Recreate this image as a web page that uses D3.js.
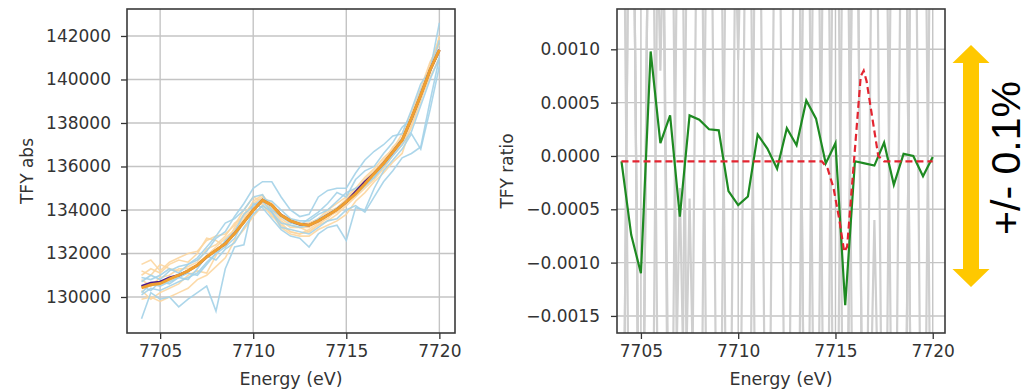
<!DOCTYPE html>
<html><head><meta charset="utf-8">
<script src="https://cdn.jsdelivr.net/npm/d3@7"></script>
<style>
html,body{margin:0;padding:0;background:#fff;}
svg{display:block;}
text{font-family:"DejaVu Sans",sans-serif;fill:#333;}
</style></head>
<body>
<svg id="chart" width="1028" height="390"></svg>
<script>
// ---------- DATA ----------
const energy = [7704,7704.5,7705,7705.5,7706,7706.5,7707,7707.5,7708,7708.5,7709,7709.5,7710,7710.5,7711,7711.5,7712,7712.5,7713,7713.5,7714,7714.5,7715,7715.5,7716,7716.5,7717,7717.5,7718,7718.5,7719,7719.5,7720];
const xTicks = [7705,7710,7715,7720];
const absTicks = [130000,132000,134000,136000,138000,140000,142000];
const ratioTicks = [-0.0015,-0.0010,-0.0005,0.0000,0.0005,0.0010];

const meanTFY = [130490,130640,130690,130890,131000,131200,131460,131840,132150,132450,132920,133450,133990,134450,134220,133760,133500,133350,133300,133500,133760,134020,134370,134830,135290,135680,136140,136670,137210,138210,139280,140430,141360];
const smoothTFY = [130420,130560,130620,130820,131000,131200,131460,131840,132150,132450,132920,133450,133990,134450,134220,133760,133500,133350,133300,133500,133760,134020,134370,134740,135190,135680,136140,136670,137210,138210,139280,140430,141360];

const blueScans = [
 [129000,130200,129900,130000,129550,129900,130200,130500,129350,131300,132300,132400,134300,134100,133600,133100,132800,132700,132300,132900,133200,133300,132600,134100,134000,135000,135800,136300,136800,137500,136800,138600,140600],
 [130900,130800,131000,131300,131100,131500,131700,132100,132700,133000,133700,134300,135000,135300,135300,134600,134000,133700,133800,134600,134900,135000,135000,135700,136300,136700,137000,137400,137500,138600,139800,140400,142600],
 [130500,130300,130700,130600,130900,131100,131000,131500,132000,132600,133000,133800,134200,134500,134400,134000,133600,133500,133500,133800,134000,134400,134800,135000,135200,135500,136000,136500,137000,137600,138800,140000,141000],
 [130200,130600,130500,130700,130900,130800,131300,131900,131700,132200,132500,133200,133800,134200,133900,133200,133100,133000,132900,133200,133500,133600,134000,134200,133900,134600,135300,135800,136400,136600,136900,139000,141000],
 [130700,131000,130800,131200,131400,131500,131800,132300,132800,133400,133600,134000,134600,134700,134000,133700,133400,133300,133600,133900,134300,134800,134600,135400,135800,136000,136600,137100,137800,138200,139500,140300,141800],
 [130100,130400,130300,130500,130700,130900,131100,131600,132000,132300,132700,133500,134000,134400,133900,133400,133300,133200,133300,133600,133800,134100,134400,134700,135100,135500,136100,136700,137300,138100,139200,140500,141200]
];
const peachScans = [
 [131500,131700,131200,131600,131800,132000,132100,132600,132800,132900,133300,134000,134600,134400,134000,133500,133200,133200,133000,133300,133700,133900,134300,134700,135200,135500,136000,136600,137000,137800,139000,140500,141800],
 [129900,130000,129800,130000,130200,130400,130800,131000,131400,131800,132600,133100,133700,134200,133800,133200,132900,132800,132800,133100,133300,133500,133800,134400,134800,135300,135700,136200,136600,137900,139100,140100,141000],
 [131000,131300,131100,131500,131700,131600,132000,132700,132600,132300,133200,133800,134300,134600,134300,133800,133600,133400,133400,133600,134000,134300,134600,135000,135500,135900,136400,136800,137500,138500,139600,140800,141600],
 [130300,129900,130200,130400,130600,131000,131200,131100,131900,132600,133000,133400,134100,134300,133700,133400,133000,132900,133000,133300,133500,133800,134200,134600,135000,135400,135900,136500,137000,138000,139300,140600,141300],
 [131200,131000,131500,131300,131200,131400,131600,132200,132400,132800,133400,133700,134400,134700,134100,133600,133300,133200,133200,133500,133900,134100,134500,134900,135400,135800,136200,136900,137300,138300,139400,140700,141900],
 [130800,130500,130900,131000,131300,131300,131500,131900,132300,132700,133100,133600,134200,134500,133900,133300,133000,132900,133100,133400,133600,134000,134400,134800,135300,135700,136300,136800,137200,138000,139100,140300,142000]
];

const ratioGreen = [-0.00005,-0.00074,-0.0011,0.00098,0.00012,0.00038,-0.00057,0.00038,0.00034,0.00025,0.00024,-0.00033,-0.00046,-0.00038,0.0002,0.00007,-0.00012,0.00026,0.0001,0.00052,0.00035,-0.00007,0.00012,-0.0014,-0.00005,-0.00007,-0.00009,0.000125,-0.00027,0.00002,0.0,-0.00019,-0.00001];

const fitEnergy = [7704,7714.3,7714.6,7714.9,7715.2,7715.45,7715.6,7716.3,7716.45,7716.6,7717.2,7717.5,7720];
const fitRatio = [-0.00005,-0.00005,-0.00012,-0.0003,-0.0006,-0.0009,-0.00085,0.00075,0.0008,0.0007,0.0,-0.00005,-0.00005];

const grayScans = [
 [0.005,-0.005,-0.005,0.005,0.005,-0.004,-0.005,0.005,0.005,0.005,-0.005,-0.005,0.005,0.005,0.005,0.005,0.005,-0.005,-0.005,0.005,0.005,-0.005,-0.005,0.005,0.005,-0.005,-0.005,-0.005,0.005,0.005,-0.005,-0.005,0.005],
 [-0.005,0.005,-0.005,-0.005,0.005,-0.005,-0.0003,-0.005,-0.005,0.005,0.005,-0.005,-0.005,-0.005,0.005,-0.005,-0.005,-0.005,0.005,-0.005,0.005,0.005,0.005,-0.005,0.005,0.005,0.005,-0.005,-0.005,-0.005,0.005,-0.005,-0.005],
 [0.005,0.005,-0.005,0.005,0.0008,0.005,-0.005,-0.0004,-0.005,-0.005,-0.005,0.005,0.0009,0.005,-0.005,-0.005,0.005,0.005,0.005,-0.005,-0.005,0.005,-0.005,-0.005,0.005,-0.005,0.005,0.005,-0.005,-0.005,0.005,0.005,-0.005],
 [-0.005,0.005,-0.005,0.005,-0.005,-0.005,0.005,-0.005,0.005,-0.005,-0.005,-0.005,-0.005,0.005,0.005,0.005,0.005,0.005,0.005,0.005,-0.005,-0.005,0.005,0.005,-0.005,-0.005,-0.0006,-0.005,-0.005,0.005,-0.005,-0.005,-0.005]
];

// ---------- LAYOUT ----------
const svg = d3.select("#chart");
svg.append("rect").attr("width",1028).attr("height",390).attr("fill","#fff");

function panel(opt){
  const g = svg.append("g").attr("transform",`translate(${opt.left},${opt.top})`);
  const w = opt.width, h = opt.height;
  const x = d3.scaleLinear().domain(opt.xDomain).range([0,w]);
  const y = d3.scaleLinear().domain(opt.yDomain).range([h,0]);
  g.append("g").selectAll("line").data(xTicks).join("line")
    .attr("x1",d=>x(d)).attr("x2",d=>x(d)).attr("y1",0).attr("y2",h)
    .attr("stroke","#c4c4c4").attr("stroke-width",1.4);
  g.append("g").selectAll("line").data(opt.yTicks).join("line")
    .attr("y1",d=>y(d)).attr("y2",d=>y(d)).attr("x1",0).attr("x2",w)
    .attr("stroke","#c4c4c4").attr("stroke-width",1.4);
  const clipId = "clip"+opt.id;
  svg.append("clipPath").attr("id",clipId).append("rect").attr("width",w).attr("height",h);
  const plot = g.append("g").attr("clip-path",`url(#${clipId})`);
  const xa = g.append("g").attr("transform",`translate(0,${h})`)
    .call(d3.axisBottom(x).tickValues(xTicks).tickSize(6).tickPadding(6).tickFormat(d3.format("d")));
  const ya = g.append("g")
    .call(d3.axisLeft(y).tickValues(opt.yTicks).tickSize(6).tickPadding(opt.yPad).tickFormat(opt.yFormat));
  [xa,ya].forEach(a=>{
    a.select(".domain").remove();
    a.selectAll(".tick line").attr("stroke","#333").attr("stroke-width",1.3);
    a.selectAll(".tick text").attr("fill","#333").style("font-size","17px").style("font-family","DejaVu Sans");
  });
  g.append("rect").attr("width",w).attr("height",h).attr("fill","none")
    .attr("stroke","#3a3a3a").attr("stroke-width",1.6);
  g.append("text").attr("x",w/2).attr("y",opt.xLabelY).attr("text-anchor","middle")
    .style("font-size","17.5px").text("Energy (eV)");
  g.append("text").attr("transform",`translate(${opt.yLabelX},${h/2}) rotate(-90)`)
    .attr("text-anchor","middle").style("font-size","17px").text(opt.yLabel);
  return {g,plot,x,y};
}

// Left panel
const L = panel({id:"L",left:127,top:9,width:328,height:324,
  xDomain:[7703.22,7720.84], yDomain:[128345,143240], yTicks:absTicks,
  yFormat:d3.format("d"), yPad:10, yLabel:"TFY abs", yLabelX:-94, xLabelY:376});
const lineL = d3.line().x((d,i)=>L.x(energy[i])).y(d=>L.y(d));
L.plot.selectAll(".peach").data(peachScans).join("path").attr("d",lineL)
  .attr("fill","none").attr("stroke","#fcd6a0").attr("stroke-width",1.6).attr("opacity",0.9);
L.plot.selectAll(".blue").data(blueScans).join("path").attr("d",lineL)
  .attr("fill","none").attr("stroke","#a3d2e8").attr("stroke-width",1.6).attr("opacity",0.9);
L.plot.append("path").attr("d",lineL(meanTFY)).attr("fill","none")
  .attr("stroke","#4b1a8a").attr("stroke-width",2.6);
L.plot.append("path").attr("d",lineL(smoothTFY)).attr("fill","none")
  .attr("stroke","#f0a030").attr("stroke-width",3);

// Right panel
const R = panel({id:"R",left:617,top:9,width:328,height:324,
  xDomain:[7703.77,7720.63], yDomain:[-0.00166,0.001378], yTicks:ratioTicks,
  yFormat:d3.format(".4f"), yPad:11, yLabel:"TFY ratio", yLabelX:-104, xLabelY:376});
const lineR = d3.line().x((d,i)=>R.x(energy[i])).y(d=>R.y(d));
R.plot.selectAll(".gray").data(grayScans).join("path").attr("d",lineR)
  .attr("fill","none").attr("stroke","#cfcfcf").attr("stroke-width",2.2);
R.plot.append("path").attr("d",lineR(ratioGreen)).attr("fill","none")
  .attr("stroke","#1e8a22").attr("stroke-width",2.2);
const fitLine = d3.line().x((d,i)=>R.x(fitEnergy[i])).y(d=>R.y(d));
R.plot.append("path").attr("d",fitLine(fitRatio)).attr("fill","none")
  .attr("stroke","#e32430").attr("stroke-width",2.2).attr("stroke-dasharray","7,4");

// Arrow annotation
const ax = 971, aTop = 45, aBot = 287, headH = 18, shaftW = 16, headW = 37;
svg.append("path").attr("fill","#ffc800").attr("d",
  `M${ax},${aTop} L${ax+headW/2},${aTop+headH} L${ax+shaftW/2},${aTop+headH} L${ax+shaftW/2},${aBot-headH} L${ax+headW/2},${aBot-headH} L${ax},${aBot} L${ax-headW/2},${aBot-headH} L${ax-shaftW/2},${aBot-headH} L${ax-shaftW/2},${aTop+headH} L${ax-headW/2},${aTop+headH} Z`);
svg.append("text").attr("transform","translate(1020,158) rotate(-90)")
  .attr("text-anchor","middle").style("font-family","'Liberation Sans',Arial,sans-serif")
  .style("font-size","41px").style("fill","#000").text("+/- 0.1%");
</script>
</body></html>
